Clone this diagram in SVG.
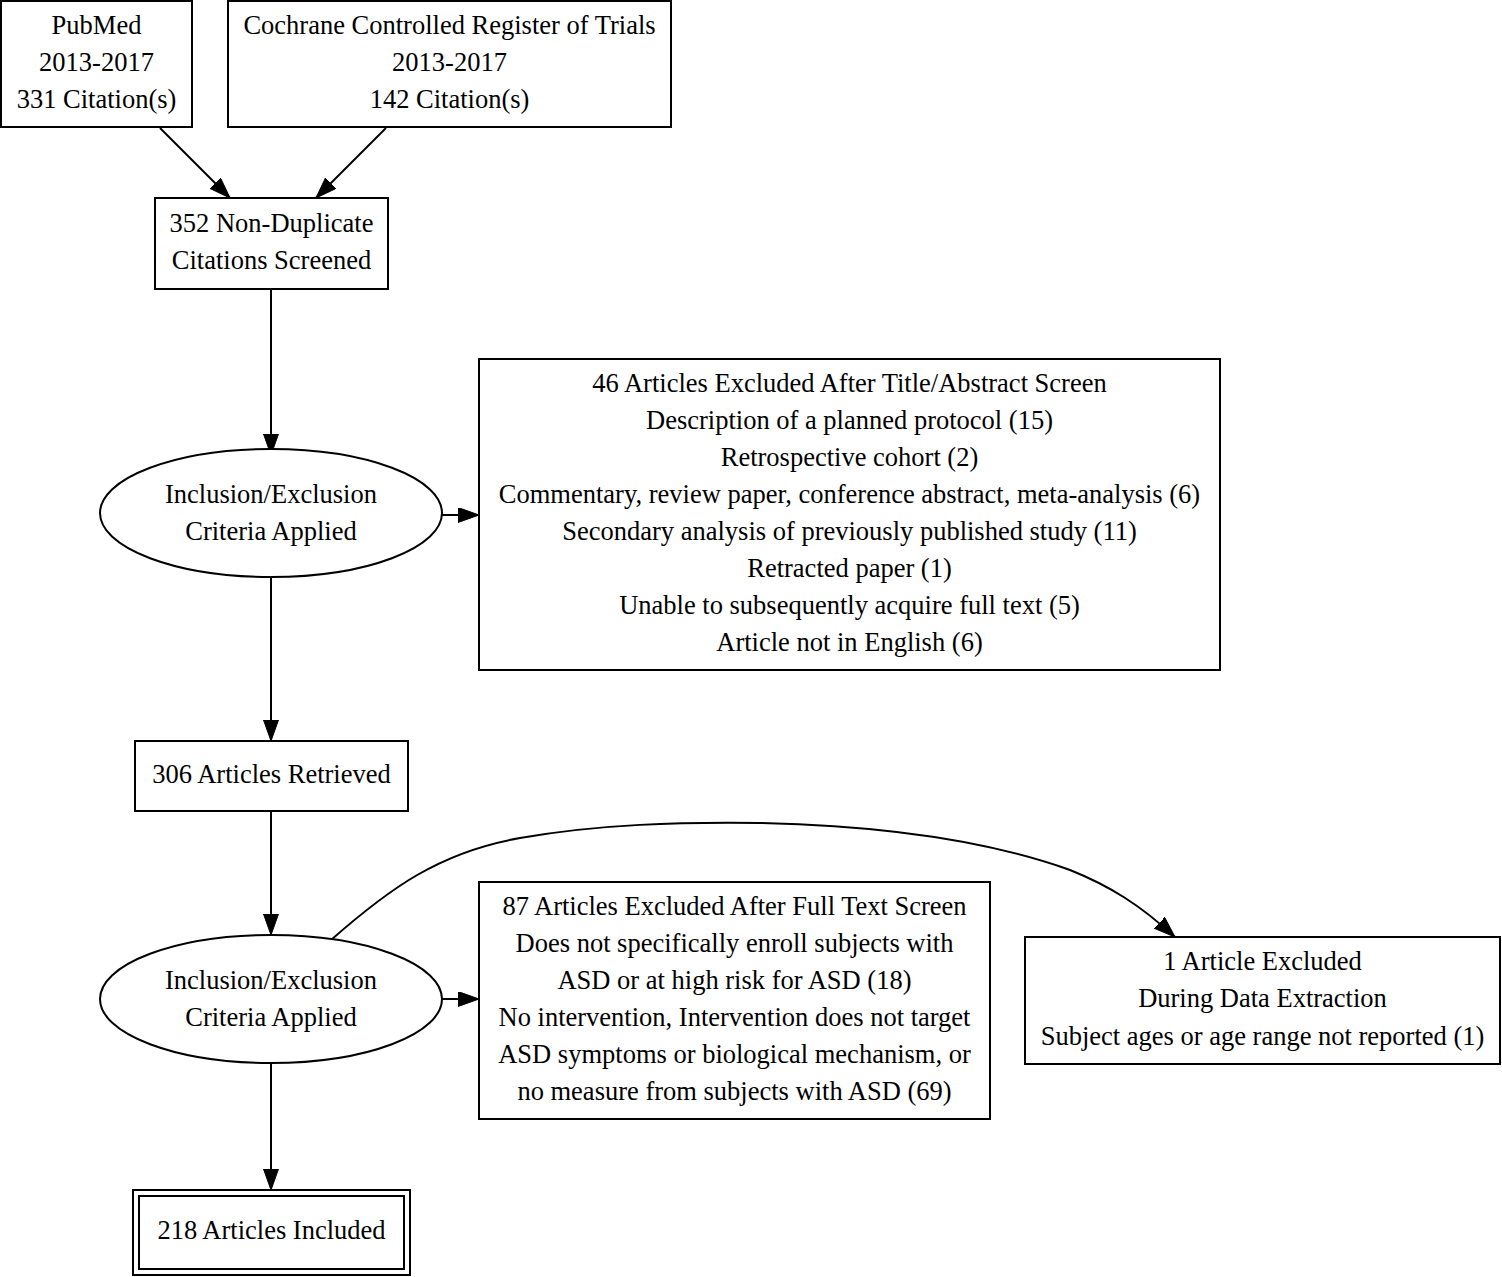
<svg xmlns="http://www.w3.org/2000/svg" width="1502" height="1277" viewBox="0 0 1502 1277">
<defs>
<style>
.n{fill:#fff;stroke:#000;stroke-width:2}
.t{font-family:"Liberation Serif","Times New Roman",serif;font-size:26.5px;fill:#000;text-anchor:middle}
.e{fill:none;stroke:#000;stroke-width:2}
</style>
<marker id="ah" markerUnits="userSpaceOnUse" markerWidth="22" markerHeight="16" refX="21" refY="7.5" orient="auto" viewBox="0 0 22 16">
<path d="M0,0 L21,7.5 L0,15 z" fill="#000" stroke="#000" stroke-width="1"/>
</marker>
</defs>
<rect width="1502" height="1277" fill="#fff"/>
<g id="connectors">
<path class="e" d="M160,128 L230,198" marker-end="url(#ah)"/>
<path class="e" d="M386,128 L316,198" marker-end="url(#ah)"/>
<path class="e" d="M271,289 L271,455" marker-end="url(#ah)"/>
<path class="e" d="M442,515 L479,515" marker-end="url(#ah)"/>
<path class="e" d="M271,577 L271,741" marker-end="url(#ah)"/>
<path class="e" d="M271,811 L271,935" marker-end="url(#ah)"/>
<path class="e" d="M442,999 L479,999" marker-end="url(#ah)"/>
<path class="e" d="M331,940 C390,888 440,852 520,838 C600,824 680,822 760,823 C900,826 1000,845 1070,870 C1110,886 1140,905 1175,937" marker-end="url(#ah)"/>
<path class="e" d="M271,1063 L271,1190" marker-end="url(#ah)"/>
</g>
<g id="pubmed">
<rect class="n" x="1" y="1" width="191" height="126"/>
<text class="t" x="96.5" y="34">PubMed</text>
<text class="t" x="96.5" y="71">2013-2017</text>
<text class="t" x="96.5" y="108">331 Citation(s)</text>
</g>
<g id="cochrane">
<rect class="n" x="228" y="1" width="443" height="126"/>
<text class="t" x="449.5" y="34">Cochrane Controlled Register of Trials</text>
<text class="t" x="449.5" y="71">2013-2017</text>
<text class="t" x="449.5" y="108">142 Citation(s)</text>
</g>
<g id="screened">
<rect class="n" x="155" y="198" width="233" height="91"/>
<text class="t" x="271.5" y="232">352 Non-Duplicate</text>
<text class="t" x="271.5" y="269">Citations Screened</text>
</g>
<g id="criteria1">
<ellipse class="n" cx="271" cy="513" rx="171" ry="64"/>
<text class="t" x="271" y="503">Inclusion/Exclusion</text>
<text class="t" x="271" y="540">Criteria Applied</text>
</g>
<g id="excluded1">
<rect class="n" x="479" y="359" width="741" height="311"/>
<text class="t" x="849.5" y="392">46 Articles Excluded After Title/Abstract Screen</text>
<text class="t" x="849.5" y="429">Description of a planned protocol (15)</text>
<text class="t" x="849.5" y="466">Retrospective cohort (2)</text>
<text class="t" x="849.5" y="503">Commentary, review paper, conference abstract, meta-analysis (6)</text>
<text class="t" x="849.5" y="540">Secondary analysis of previously published study (11)</text>
<text class="t" x="849.5" y="577">Retracted paper (1)</text>
<text class="t" x="849.5" y="614">Unable to subsequently acquire full text (5)</text>
<text class="t" x="849.5" y="651">Article not in English (6)</text>
</g>
<g id="retrieved">
<rect class="n" x="135" y="741" width="273" height="70"/>
<text class="t" x="271.5" y="783">306 Articles Retrieved</text>
</g>
<g id="criteria2">
<ellipse class="n" cx="271" cy="999" rx="171" ry="64"/>
<text class="t" x="271" y="989">Inclusion/Exclusion</text>
<text class="t" x="271" y="1026">Criteria Applied</text>
</g>
<g id="excluded2">
<rect class="n" x="479" y="882" width="511" height="237"/>
<text class="t" x="734.5" y="915">87 Articles Excluded After Full Text Screen</text>
<text class="t" x="734.5" y="952">Does not specifically enroll subjects with</text>
<text class="t" x="734.5" y="989">ASD or at high risk for ASD (18)</text>
<text class="t" x="734.5" y="1026">No intervention, Intervention does not target</text>
<text class="t" x="734.5" y="1063">ASD symptoms or biological mechanism, or</text>
<text class="t" x="734.5" y="1100">no measure from subjects with ASD (69)</text>
</g>
<g id="excluded3">
<rect class="n" x="1025" y="937" width="475" height="127"/>
<text class="t" x="1262.5" y="970">1 Article Excluded</text>
<text class="t" x="1262.5" y="1007">During Data Extraction</text>
<text class="t" x="1262.5" y="1045">Subject ages or age range not reported (1)</text>
</g>
<g id="included">
<rect class="n" x="133" y="1190" width="277" height="85"/>
<rect class="n" x="139" y="1196" width="265" height="73"/>
<text class="t" x="271.5" y="1239">218 Articles Included</text>
</g>
</svg>
